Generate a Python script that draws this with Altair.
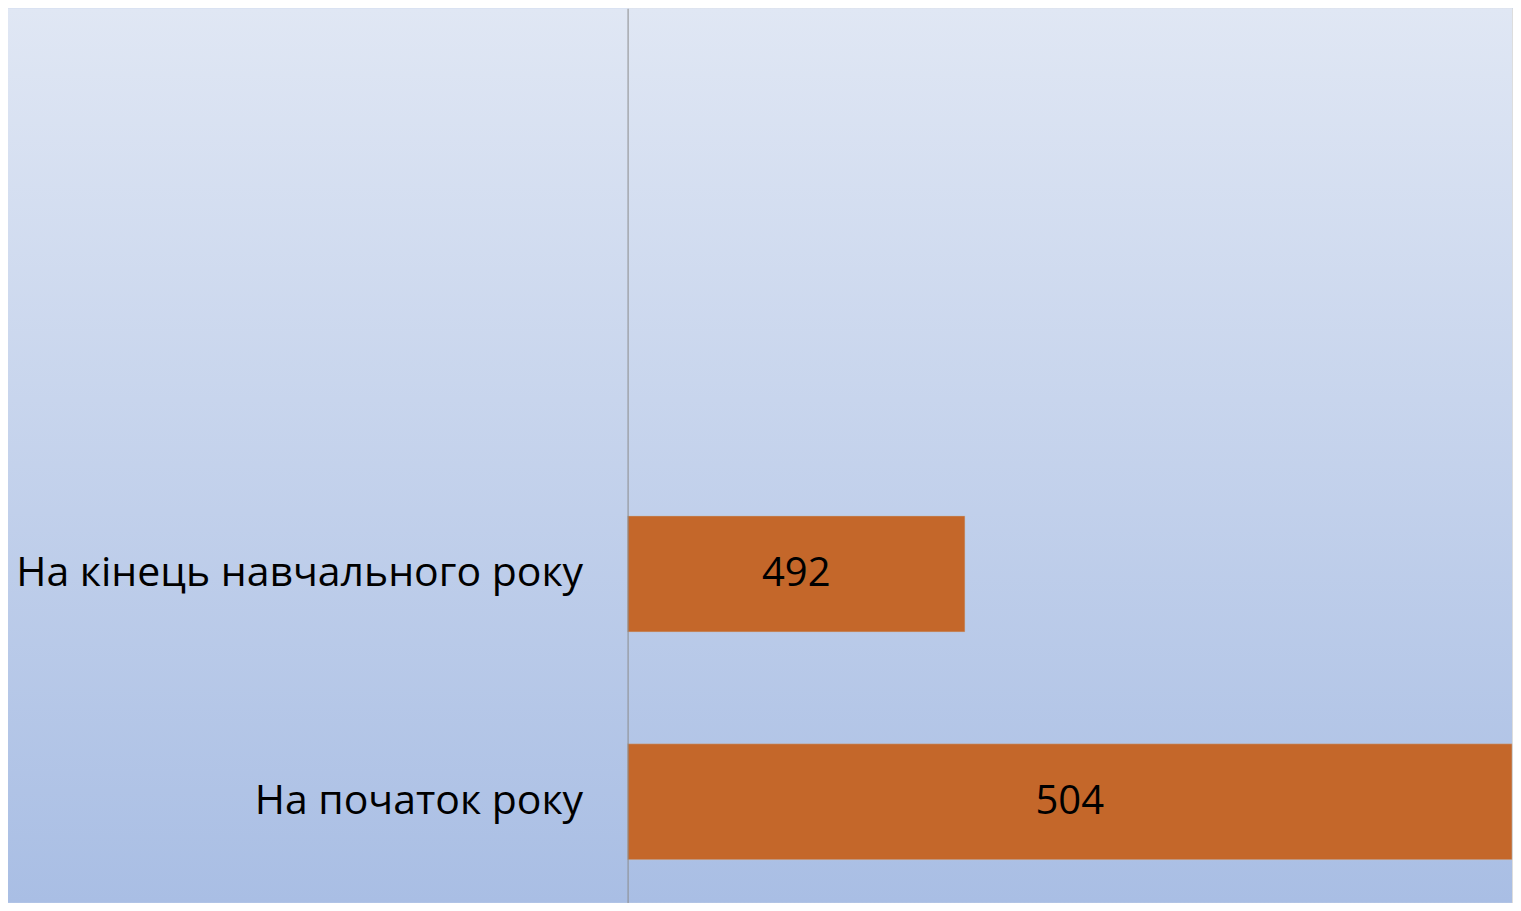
import altair as alt
import pandas as pd

categories = ["На кінець навчального року", "На початок року"]
values = [492, 504]
placeholders = ["·a", "·b"]

axis_min = 484.6
axis_max = 504

W = 885
H = 895
LEFT = 620
FONT = "Open Sans"
FS_LABEL = 41
FS_VALUE = 40

df = pd.DataFrame({"category": categories, "value": values})
df["base"] = axis_min

y_scale = alt.Scale(domain=placeholders + categories, paddingInner=0.491, paddingOuter=0.208, align=0.547)
x_scale = alt.Scale(domain=[axis_min, axis_max], zero=False, nice=False)

y_enc = alt.Y(
    "category:N",
    scale=y_scale,
    axis=alt.Axis(
        title=None,
        labelExpr="indexof(datum.value, '·') == 0 ? '' : datum.value",
        labelFont=FONT,
        labelFontSize=FS_LABEL,
        labelColor="#000000",
        labelPadding=45,
        labelLimit=0,
        ticks=False,
        grid=False,
        domain=True,
        domainColor="#8c8c8c",
        domainWidth=1,
        zindex=2,
    ),
)

bg = alt.Chart(alt.Data(values=[{}])).mark_rect(
    fill=alt.Gradient(
        gradient="linear",
        stops=[
            alt.GradientStop(color="#E0E7F4", offset=0),
            alt.GradientStop(color="#A9BEE4", offset=1),
        ],
        x1=0, x2=0, y1=0, y2=1,
    ),
    clip=False,
).encode(
    x=alt.value(-LEFT), x2=alt.value(W), y=alt.value(0), y2=alt.value(H)
)

bars = alt.Chart(df).mark_bar(color="#C4672A", stroke="#C0C0C0", strokeWidth=0.5).encode(
    y=y_enc,
    x=alt.X("value:Q", scale=x_scale, axis=None),
    x2=alt.X2("base:Q"),
)

labels = alt.Chart(df).transform_calculate(
    mid="(datum.base + datum.value) / 2"
).mark_text(font=FONT, fontSize=FS_VALUE, color="#000000", baseline="middle", align="center").encode(
    y=alt.Y("category:N"),
    x=alt.X("mid:Q"),
    text=alt.Text("value:Q"),
)

chart = alt.layer(bg, bars, labels).properties(
    width=W, height=H, padding=0
).configure_view(stroke=None).configure(background="#C6D3EC")

chart.save("out.html", embed_options={"renderer": "svg", "actions": False})
